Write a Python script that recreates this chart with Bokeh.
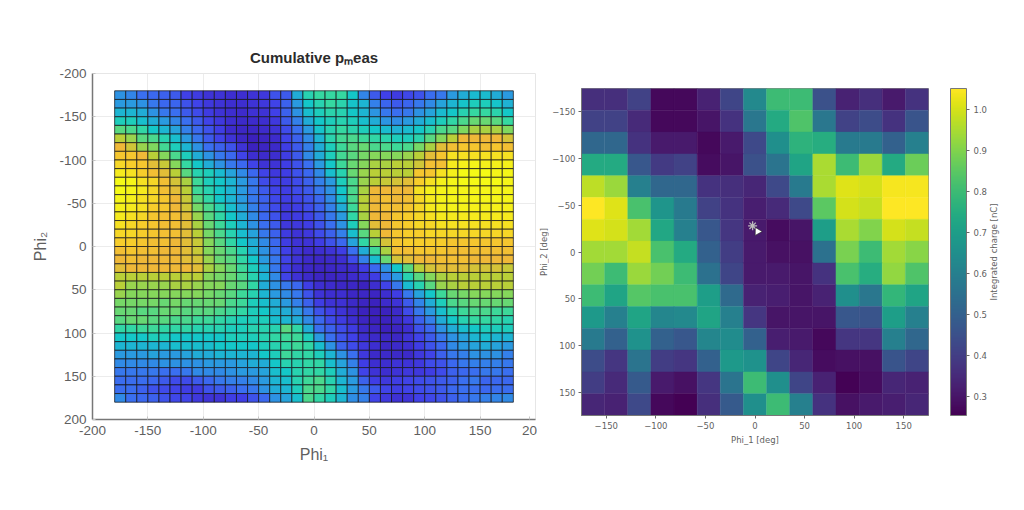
import numpy as np
from bokeh.embed import file_html
from bokeh.layouts import row
from bokeh.models import ColorBar, ColumnDataSource, FixedTicker, LinearColorMapper, NumeralTickFormatter, Range1d
from bokeh.palettes import Viridis256
from bokeh.plotting import figure
from bokeh.resources import INLINE

# ---------- left chart data: cumulative p_meas, rows top (-175) to bottom (175) ----------
pmeas_rows = [
 [.36,.33,.28,.26,.24,.22,.15,.13,.10,.10,.08,.08,.10,.12,.20,.22,.42,.52,.55,.55,.55,.48,.33,.22,.15,.13,.17,.20,.27,.30,.38,.42,.45,.45,.42,.38],
 [.38,.38,.36,.30,.26,.25,.20,.16,.12,.10,.08,.08,.10,.12,.16,.24,.38,.48,.52,.55,.53,.47,.44,.32,.25,.22,.25,.30,.34,.40,.44,.47,.50,.50,.47,.43],
 [.44,.44,.42,.36,.30,.28,.22,.18,.13,.10,.08,.07,.09,.10,.15,.24,.36,.46,.50,.53,.52,.48,.44,.37,.30,.28,.30,.36,.40,.45,.48,.52,.55,.55,.53,.48],
 [.50,.50,.46,.42,.38,.33,.28,.22,.16,.12,.08,.06,.07,.08,.12,.22,.32,.42,.48,.50,.52,.50,.46,.42,.37,.35,.38,.42,.46,.50,.54,.58,.62,.62,.60,.55],
 [.60,.58,.54,.48,.44,.40,.32,.26,.20,.14,.07,.05,.05,.07,.10,.18,.28,.38,.47,.52,.55,.53,.50,.48,.45,.43,.45,.48,.52,.58,.60,.65,.70,.70,.70,.65],
 [.72,.68,.60,.58,.52,.46,.38,.30,.22,.16,.10,.05,.02,.04,.07,.16,.24,.34,.44,.53,.57,.58,.56,.54,.53,.50,.50,.53,.60,.66,.72,.80,.80,.80,.80,.76],
 [.80,.75,.68,.65,.57,.50,.44,.36,.28,.24,.20,.10,.03,.04,.06,.14,.22,.32,.42,.50,.56,.60,.62,.58,.58,.56,.58,.64,.70,.78,.82,.84,.84,.82,.84,.82],
 [.84,.84,.80,.72,.66,.58,.50,.42,.36,.30,.26,.16,.08,.07,.08,.14,.22,.34,.42,.50,.57,.60,.64,.66,.66,.66,.68,.72,.78,.84,.90,.90,.90,.90,.90,.90],
 [.88,.86,.84,.78,.74,.66,.55,.48,.42,.36,.30,.26,.16,.10,.10,.14,.20,.28,.38,.48,.56,.62,.66,.70,.70,.72,.72,.75,.82,.82,.92,.94,.96,.94,.94,.94],
 [.92,.90,.86,.82,.78,.72,.60,.52,.50,.45,.40,.34,.26,.16,.12,.14,.20,.26,.34,.46,.52,.62,.68,.72,.72,.72,.72,.84,.84,.90,.94,.98,.98,.98,.96,.96],
 [.98,.96,.90,.88,.82,.76,.70,.56,.50,.48,.44,.38,.30,.18,.14,.14,.18,.24,.32,.38,.50,.58,.68,.72,.74,.76,.78,.86,.90,.94,.96,.98,.98,.98,.98,.96],
 [.98,.96,.92,.88,.82,.78,.72,.56,.52,.48,.44,.38,.30,.22,.16,.14,.18,.22,.30,.36,.48,.58,.70,.80,.80,.80,.80,.90,.94,.95,.96,.96,.96,.96,.96,.96],
 [.96,.94,.90,.88,.84,.80,.74,.60,.54,.48,.44,.38,.30,.24,.17,.14,.16,.20,.26,.34,.46,.58,.72,.80,.82,.80,.82,.88,.92,.95,.96,.96,.96,.96,.96,.96],
 [.94,.92,.90,.86,.84,.80,.75,.64,.58,.52,.46,.40,.32,.24,.18,.12,.14,.18,.24,.32,.42,.56,.72,.80,.82,.82,.84,.88,.92,.94,.95,.95,.94,.94,.94,.94],
 [.92,.90,.88,.84,.82,.82,.78,.68,.60,.54,.48,.42,.34,.26,.20,.12,.13,.16,.22,.30,.38,.54,.70,.80,.80,.84,.86,.88,.90,.92,.92,.92,.92,.92,.92,.92],
 [.90,.88,.86,.84,.82,.82,.78,.70,.62,.56,.50,.44,.36,.28,.22,.12,.12,.14,.20,.28,.36,.50,.66,.78,.80,.84,.86,.88,.88,.90,.90,.90,.90,.90,.90,.90],
 [.88,.88,.86,.84,.82,.82,.78,.72,.64,.58,.52,.46,.40,.30,.24,.13,.10,.12,.18,.24,.32,.46,.60,.72,.80,.84,.86,.86,.88,.88,.88,.88,.88,.88,.88,.88],
 [.86,.86,.84,.82,.82,.80,.78,.74,.66,.60,.54,.48,.42,.34,.26,.14,.10,.10,.14,.20,.26,.40,.54,.66,.76,.84,.86,.86,.86,.86,.84,.84,.84,.84,.84,.84],
 [.82,.84,.82,.82,.80,.80,.78,.74,.66,.62,.58,.52,.44,.36,.28,.15,.10,.07,.08,.10,.14,.28,.42,.56,.70,.82,.82,.84,.84,.84,.82,.82,.82,.82,.82,.82],
 [.80,.82,.80,.80,.80,.80,.78,.76,.68,.62,.60,.54,.48,.38,.30,.16,.10,.06,.05,.06,.08,.18,.32,.46,.62,.76,.78,.80,.80,.82,.82,.82,.80,.80,.80,.80],
 [.78,.80,.80,.80,.80,.80,.80,.78,.70,.66,.62,.56,.50,.42,.30,.14,.08,.05,.04,.05,.06,.07,.14,.26,.36,.48,.60,.72,.76,.78,.78,.78,.76,.76,.76,.74],
 [.72,.72,.72,.72,.72,.72,.72,.72,.66,.64,.62,.58,.52,.44,.34,.16,.09,.06,.04,.04,.05,.07,.09,.14,.30,.38,.52,.60,.66,.70,.72,.72,.72,.72,.72,.72],
 [.72,.68,.68,.68,.68,.70,.70,.68,.66,.66,.62,.60,.54,.42,.36,.30,.26,.14,.08,.07,.05,.05,.03,.08,.16,.30,.45,.52,.60,.68,.70,.72,.72,.72,.72,.72],
 [.68,.66,.66,.66,.66,.66,.66,.66,.64,.62,.60,.56,.52,.44,.38,.34,.30,.20,.10,.08,.08,.05,.05,.04,.08,.14,.30,.40,.48,.56,.62,.64,.66,.66,.66,.66],
 [.64,.64,.64,.64,.62,.64,.62,.62,.62,.62,.58,.56,.50,.46,.42,.38,.32,.24,.14,.10,.09,.06,.04,.03,.07,.10,.22,.33,.42,.50,.58,.60,.62,.62,.62,.62],
 [.62,.62,.60,.60,.62,.62,.60,.60,.60,.58,.56,.54,.50,.48,.44,.42,.38,.30,.20,.15,.10,.06,.03,.02,.03,.06,.18,.30,.38,.46,.52,.56,.58,.58,.56,.56],
 [.60,.62,.62,.60,.60,.58,.58,.56,.56,.54,.52,.50,.50,.50,.46,.44,.42,.34,.26,.18,.13,.08,.04,.02,.03,.06,.12,.24,.32,.42,.48,.52,.55,.55,.54,.52],
 [.54,.54,.56,.56,.54,.54,.54,.52,.52,.52,.50,.50,.52,.52,.52,.60,.54,.42,.28,.24,.18,.13,.06,.04,.02,.04,.08,.20,.26,.36,.42,.46,.48,.50,.50,.50],
 [.48,.48,.48,.50,.50,.48,.48,.48,.48,.48,.50,.50,.50,.52,.54,.56,.56,.50,.38,.28,.20,.15,.08,.06,.05,.05,.10,.16,.22,.30,.36,.40,.44,.46,.44,.44],
 [.44,.44,.44,.44,.44,.46,.46,.46,.46,.48,.48,.48,.48,.50,.52,.54,.56,.54,.46,.36,.24,.18,.12,.08,.05,.06,.08,.14,.20,.26,.34,.38,.40,.42,.40,.38],
 [.38,.38,.38,.40,.38,.38,.40,.42,.42,.44,.44,.44,.44,.48,.50,.56,.54,.54,.50,.44,.36,.28,.12,.06,.06,.06,.06,.12,.16,.24,.30,.32,.36,.36,.36,.32],
 [.34,.34,.34,.34,.36,.36,.36,.36,.38,.38,.38,.40,.42,.42,.48,.52,.52,.54,.54,.46,.40,.32,.14,.08,.08,.10,.10,.12,.18,.20,.26,.30,.32,.32,.32,.30],
 [.30,.30,.30,.30,.28,.28,.30,.34,.34,.34,.36,.38,.38,.40,.46,.48,.52,.54,.54,.50,.42,.36,.16,.10,.08,.10,.12,.12,.14,.18,.24,.26,.28,.30,.30,.28],
 [.27,.27,.27,.26,.22,.18,.18,.22,.26,.30,.32,.32,.34,.38,.44,.46,.52,.56,.58,.52,.44,.38,.24,.14,.12,.14,.16,.18,.20,.22,.24,.28,.30,.25,.26,.26],
 [.27,.27,.24,.20,.18,.16,.14,.13,.20,.22,.24,.28,.30,.36,.42,.44,.50,.58,.58,.54,.46,.38,.30,.22,.16,.14,.16,.18,.20,.22,.26,.28,.28,.26,.27,.27],
 [.34,.28,.26,.24,.20,.17,.16,.12,.10,.10,.14,.14,.20,.26,.36,.40,.46,.58,.54,.50,.44,.35,.32,.16,.12,.09,.10,.15,.17,.20,.24,.27,.30,.32,.33,.34],
]
pmeas_anchor_levels = [0.00, 0.15, 0.28, 0.38, 0.48, 0.55, 0.65, 0.72, 0.80, 0.86, 0.92, 1.00]
pmeas_anchor_colors = ["#3a1bb5", "#4040e8", "#3a70f0", "#2a9ae0", "#14c8c8", "#35d8a0",
                       "#7ed860", "#b8cf38", "#efb838", "#f7cc2c", "#f5ea1e", "#f5ff14"]
left_y_ticks = [-200, -150, -100, -50, 0, 50, 100, 150, 200]
left_y_tick_labels = ["-200", "-150", "-100", "-50", "0", "50", "100", "150", "200"]
left_x_ticks = [-200, -150, -100, -50, 0, 50, 100, 150, 194.5]
left_x_tick_labels = ["-200", "-150", "-100", "-50", "0", "50", "100", "150", "20"]
left_grid_ticks = [-150, -100, -50, 0, 50, 100, 150]
left_title = "Cumulative p\u2098eas"
left_x_label = "Phi\u2081"
left_y_label = "Phi\u2082"

# ---------- right chart data: integrated charge [nC], rows top to bottom ----------
charge_rows = [
 [.36,.36,.41,.27,.27,.33,.42,.63,.80,.80,.45,.33,.36,.31,.37],
 [.41,.41,.35,.27,.27,.30,.37,.57,.74,.83,.57,.41,.44,.37,.46],
 [.52,.52,.37,.31,.31,.27,.31,.43,.65,.77,.75,.58,.58,.50,.60],
 [.74,.74,.47,.39,.41,.28,.30,.45,.56,.72,.95,.80,.93,.74,.87],
 [.97,.93,.60,.52,.52,.37,.36,.34,.43,.58,.95,1.01,1.00,1.04,1.04],
 [1.05,1.01,.82,.67,.58,.41,.37,.32,.35,.43,.85,1.00,.98,1.05,1.05],
 [1.01,1.00,.94,.73,.60,.47,.38,.31,.28,.30,.70,.95,.90,1.00,.98],
 [.94,.94,.98,.82,.74,.50,.40,.31,.29,.29,.55,.89,.80,.94,.91],
 [.88,.80,.93,.88,.80,.55,.42,.31,.31,.30,.37,.82,.75,.92,.83],
 [.80,.72,.84,.82,.82,.70,.53,.33,.32,.30,.33,.65,.57,.78,.72],
 [.68,.60,.72,.62,.63,.72,.60,.38,.30,.30,.30,.47,.46,.70,.60],
 [.58,.50,.66,.50,.47,.62,.64,.50,.32,.31,.27,.38,.38,.60,.52],
 [.44,.38,.56,.40,.38,.50,.68,.66,.42,.34,.28,.29,.29,.46,.42],
 [.40,.35,.48,.31,.29,.38,.56,.80,.65,.42,.33,.26,.28,.34,.33],
 [.34,.33,.43,.27,.25,.36,.48,.65,.80,.60,.37,.29,.31,.32,.34],
]
right_ticks = [-150, -100, -50, 0, 50, 100, 150]
right_tick_labels = ["\u2212150", "\u2212100", "\u221250", "0", "50", "100", "150"]
colorbar_ticks = [0.3, 0.4, 0.5, 0.6, 0.7, 0.8, 0.9, 1.0]
colorbar_label = "Integrated charge [nC]"
right_x_label = "Phi_1 [deg]"
right_y_label = "Phi_2 [deg]"
cursor_star_phi1 = [-2.4]
cursor_star_phi2 = [-28]
cursor_arrow_phi1 = [2.6]
cursor_arrow_phi2 = [-22]

GREY = "#5f5f5f"
SANS = "Liberation Sans"
DEJA = "DejaVu Sans"


def cell_source(rows, lo, hi):
    arr = np.array(rows, dtype=float)
    n_rows, n_cols = arr.shape
    xe = np.linspace(lo, hi, n_cols + 1)
    ye = np.linspace(lo, hi, n_rows + 1)
    xl, yt = np.meshgrid(xe[:-1], ye[:-1])
    xr, yb = np.meshgrid(xe[1:], ye[1:])
    return ColumnDataSource(dict(left=xl.ravel(), right=xr.ravel(), top=yt.ravel(),
                                 bottom=yb.ravel(), v=arr.ravel()))


def hex_rgb(h):
    return [int(h[i:i + 2], 16) for i in (1, 3, 5)]


rgb = np.array([hex_rgb(c) for c in pmeas_anchor_colors], dtype=float)
grid_levels = np.linspace(0, 1, 256)
left_palette = ["#%02x%02x%02x" % tuple(int(round(np.interp(t, pmeas_anchor_levels, rgb[:, k]))) for k in range(3))
                for t in grid_levels]

BORDER_T = 60
BORDER_B = 60
# frame rectangles on the page (left, top, right, bottom)
F1 = (92, 73, 535, 419)
F2 = (581, 88, 928, 415)
P1_END = 537
PY_END = 548
P2_END = 988
P3_END = 1014


def label_strip(text, width, left, standoff, frame):
    """A one-pixel frame whose left axis carries only a rotated label."""
    s = figure(width=width, height=(frame[3] - frame[1]) + BORDER_T + BORDER_B, output_backend="svg",
               toolbar_location=None, x_range=Range1d(0, 1), y_range=Range1d(0, 1),
               min_border_left=left, min_border_right=max(width - left - 1, 0), min_border_top=BORDER_T,
               min_border_bottom=BORDER_B, margin=(frame[1] - BORDER_T, 0, 0, 0))
    s.xaxis.visible = False
    s.grid.visible = False
    s.outline_line_color = None
    ax = s.yaxis[0]
    ax.ticker = FixedTicker(ticks=[])
    ax.axis_line_color = None
    ax.major_tick_line_color = None
    ax.minor_tick_line_color = None
    ax.major_tick_in = 0
    ax.major_tick_out = 0
    ax.minor_tick_in = 0
    ax.minor_tick_out = 0
    ax.major_label_standoff = 0
    ax.axis_label = text
    ax.axis_label_standoff = standoff
    ax.axis_label_text_font = DEJA
    ax.axis_label_text_font_size = "8.5px"
    ax.axis_label_text_font_style = "normal"
    ax.axis_label_text_color = GREY
    return s


# ---------- left figure ----------
p1 = figure(width=P1_END, height=(F1[3] - F1[1]) + BORDER_T + BORDER_B, output_backend="svg", toolbar_location=None,
            x_range=Range1d(-200, 200), y_range=Range1d(200, -200), title=left_title,
            min_border_left=F1[0], min_border_right=P1_END - F1[2], min_border_top=BORDER_T, min_border_bottom=BORDER_B,
            margin=(F1[1] - BORDER_T, 0, 0, 0))
p1.title.align = "center"
p1.title.text_font = SANS
p1.title.text_font_size = "15px"
p1.title.text_font_style = "bold"
p1.title.text_color = "#2b2b2b"
p1.title.standoff = 16
mapper1 = LinearColorMapper(palette=left_palette, low=0, high=1)
p1.quad(left="left", right="right", top="top", bottom="bottom", source=cell_source(pmeas_rows, -180, 180),
        fill_color={"field": "v", "transform": mapper1}, line_color="#15151a", line_alpha=0.75, line_width=1)
for ax, ticks, labels in ((p1.xaxis[0], left_x_ticks, left_x_tick_labels), (p1.yaxis[0], left_y_ticks, left_y_tick_labels)):
    ax.ticker = FixedTicker(ticks=ticks)
    ax.major_label_overrides = dict(zip(ticks, labels))
    ax.major_tick_in = 3
    ax.major_tick_out = 0
    ax.minor_tick_in = 0
    ax.minor_tick_out = 0
    ax.axis_line_color = "#777777"
    ax.axis_line_width = 1.5
    ax.major_tick_line_color = "#c4c4c4"
    ax.major_label_text_color = GREY
    ax.major_label_text_font = SANS
    ax.major_label_text_font_size = "13.5px"
    ax.major_label_standoff = 6
    ax.axis_label_text_font = SANS
    ax.axis_label_text_font_size = "16px"
    ax.axis_label_text_font_style = "normal"
    ax.axis_label_text_color = GREY
p1.xaxis[0].axis_label = left_x_label
p1.yaxis[0].axis_label = left_y_label
p1.xaxis[0].axis_label_standoff = 8
p1.yaxis[0].axis_label_standoff = 7
p1.grid.ticker = FixedTicker(ticks=left_grid_ticks)
p1.grid.grid_line_color = "#ececec"
p1.outline_line_color = "#e6e6e6"

# ---------- right figure ----------
p2 = figure(width=P2_END - PY_END, height=(F2[3] - F2[1]) + BORDER_T + BORDER_B, output_backend="svg", toolbar_location=None,
            x_range=Range1d(-175, 175), y_range=Range1d(175, -175),
            min_border_left=F2[0] - PY_END, min_border_right=P2_END - F2[2], min_border_top=BORDER_T, min_border_bottom=BORDER_B,
            margin=(F2[1] - BORDER_T, 0, 0, 0))
mapper2 = LinearColorMapper(palette=Viridis256, low=0.254, high=1.05)
c2 = {"field": "v", "transform": mapper2}
p2.quad(left="left", right="right", top="top", bottom="bottom", source=cell_source(charge_rows, -175, 175),
        fill_color=c2, line_color=c2, line_width=0.4)
p2.scatter(cursor_star_phi1, cursor_star_phi2, marker="asterisk", size=9, line_color="#bbbbbb", line_width=1.3)
p2.scatter(cursor_arrow_phi1, cursor_arrow_phi2, marker="triangle", size=8, angle=0.5, fill_color="white",
           line_color="#222222", line_width=0.6)
for ax in (p2.xaxis[0], p2.yaxis[0]):
    ax.ticker = FixedTicker(ticks=right_ticks)
    ax.major_label_overrides = dict(zip(right_ticks, right_tick_labels))
    ax.major_tick_in = 0
    ax.major_tick_out = 3
    ax.minor_tick_in = 0
    ax.minor_tick_out = 0
    ax.axis_line_color = "#777777"
    ax.major_tick_line_color = "#666666"
    ax.major_label_text_color = GREY
    ax.major_label_text_font = DEJA
    ax.major_label_text_font_size = "8.5px"
    ax.major_label_standoff = 3
p2.xaxis[0].axis_label = right_x_label
p2.xaxis[0].axis_label_text_font = DEJA
p2.xaxis[0].axis_label_text_font_size = "8.5px"
p2.xaxis[0].axis_label_text_font_style = "normal"
p2.xaxis[0].axis_label_text_color = GREY
p2.xaxis[0].axis_label_standoff = 3
p2.grid.visible = False
p2.outline_line_color = "#888888"
cb = ColorBar(color_mapper=mapper2, ticker=FixedTicker(ticks=colorbar_ticks), width=16, height=F2[3] - F2[1],
              padding=0, margin=0, location=(22 + F2[2] - F2[0], 0),
              formatter=NumeralTickFormatter(format="0.0"),
              major_label_text_font=DEJA, major_label_text_font_size="8.5px", major_label_text_color=GREY,
              major_tick_line_color="#666666", major_tick_in=0, major_tick_out=3, minor_tick_line_color=None,
              bar_line_color="#777777", label_standoff=4)
p2.add_layout(cb)

py = label_strip(right_y_label, PY_END - P1_END, 10, 0, F2)
p3 = label_strip(colorbar_label, P3_END - P2_END, 9, 0, F2)

out = row(p1, py, p2, p3, spacing=0)
open("out.html", "w").write(file_html(out, INLINE))
